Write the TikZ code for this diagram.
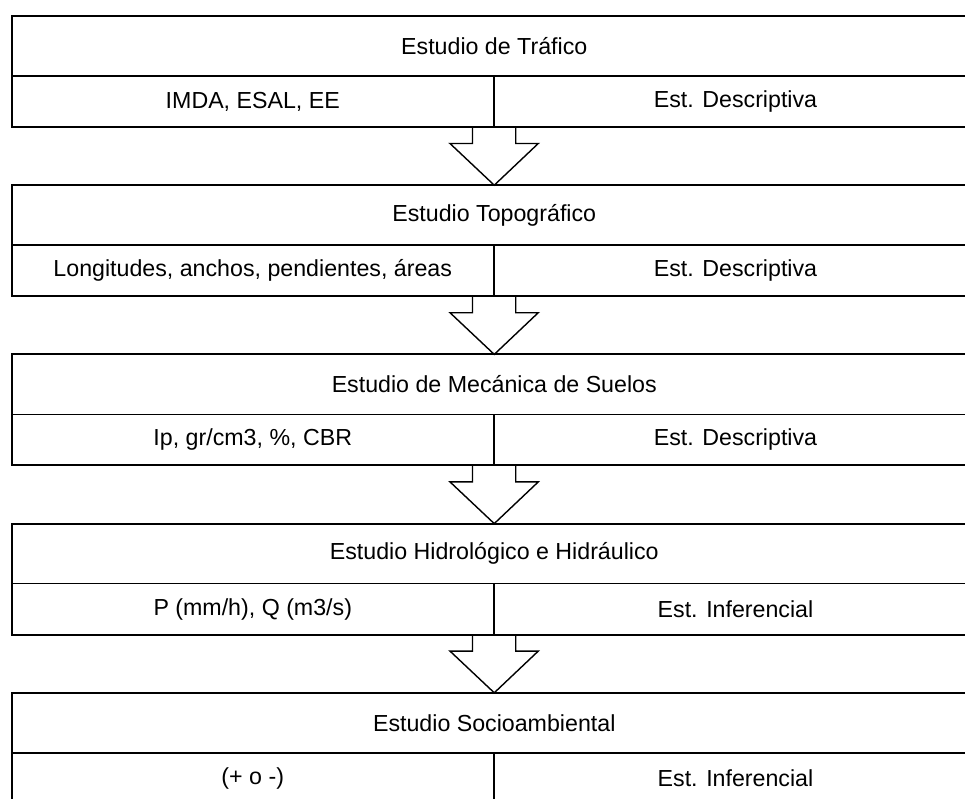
\documentclass[tikz,border=0pt]{standalone}
\usepackage{fontspec}
\setmainfont{Liberation Sans}
\begin{document}
\begin{tikzpicture}[x=1pt,y=-1pt,
  cell/.style={draw, line width=1.6pt, inner sep=0pt, outer sep=0pt,
    anchor=north west, font=\fontsize{23.2}{27}\selectfont},
  titlecell/.style={cell, minimum width=965.5pt, minimum height=60pt},
  leftcell/.style={cell, minimum width=482.5pt, minimum height=51pt},
  rightcell/.style={cell, minimum width=483pt, minimum height=51pt},
  frameline/.style={draw, line width=2pt},
  blockarrow/.style={draw, line width=1.4pt, line join=miter}]
\useasboundingbox (0,0) rectangle (965,799);
\clip (0,0) rectangle (965,799);

% one study block per step: title row above, value / method row below
\foreach \i/\top/\ttl/\val/\mth in {
  1/16/{Estudio de Tráfico}/{IMDA, ESAL, EE}/{Est. Descriptiva},
  2/185.2/{Estudio Topográfico}/{Longitudes, anchos, pendientes, áreas}/{Est. Descriptiva},
  3/354.4/{Estudio de Mecánica de Suelos}/{Ip, gr/cm3, \%, CBR}/{Est. Descriptiva},
  4/523.6/{Estudio Hidrológico e Hidráulico}/{P (mm/h), Q (m3/s)}/{Est. Inferencial},
  5/692.8/{Estudio Socioambiental}/{(+ o -)}/{Est. Inferencial}} {
  \node[titlecell] (t\i) at (11.5,\top) {\ttl};
  \node[leftcell] (l\i) at (t\i.south west) {\val};
  \node[rightcell] (r\i) at (l\i.north east) {\mth};
  \draw[frameline] (t\i.north west) rectangle (r\i.south east);
}

% hollow block arrows between consecutive studies
\foreach \i/\j in {1/2,2/3,3/4,4/5} {
  \draw[blockarrow] (l\i.south east) ++(-21.5,0) -- ++(0,16.5) -- ++(-22.5,0)
    -- (t\j.north) -- ++(44,-41.7) -- ++(-22.5,0) -- ++(0,-16.5);
}
\end{tikzpicture}
\end{document}
